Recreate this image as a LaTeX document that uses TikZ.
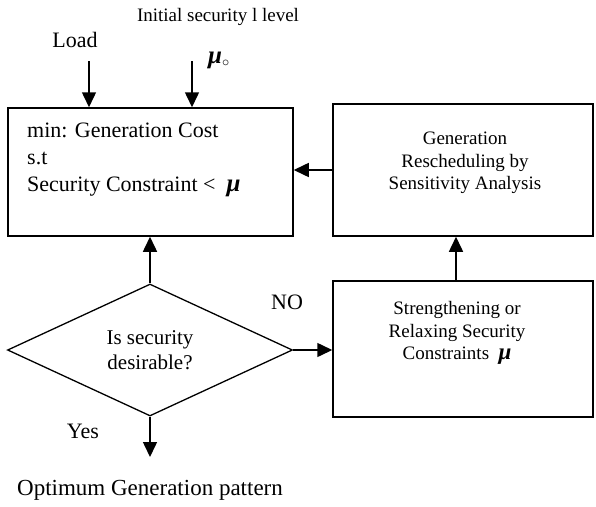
\documentclass[tikz,border=0pt]{standalone}
\usepackage{fontspec}
\setmainfont{Liberation Serif}
\usetikzlibrary{shapes.geometric,arrows.meta}

\begin{document}
\begin{tikzpicture}
        [x=1pt, y=-1pt,
        block/.style={draw, line width=1.5pt, inner sep=0pt},
        decision/.style={diamond, draw, line width=1.3pt, inner sep=0pt, aspect=2.15,
                minimum width=285pt, minimum height=132pt, align=center,
                font=\fontsize{21}{25}\selectfont},
        flow/.style={line width=1.5pt, -{Triangle[length=15pt,width=14pt]}},
        big/.style={inner sep=0pt, font=\fontsize{22}{27}\selectfont},
        small/.style={inner sep=0pt, align=center, font=\fontsize{19}{22.5}\selectfont}]

        \newcommand{\mysym}[1]{{\fontsize{#1}{#1}\selectfont\bfseries\itshape μ}}

        \useasboundingbox (0,0) rectangle (596,506);

        % Blocks
        \node[block, minimum width=285pt, minimum height=128pt] (optim) at (150.5,172) {};
        \node[block, minimum width=260pt, minimum height=132pt] (resched) at (463,170) {};
        \node[block, minimum width=260pt, minimum height=136pt] (relax) at (463,349) {};
        \node[decision] (decide) at (150,350) {Is security\\ desirable?};

        % Texts inside the blocks
        \node[big, anchor=west, align=left] (optimtext) at (27,160)
                {min: Generation Cost\\ s.t\\ Security Constraint <\ \ \mysym{25}};
        \node[small] (reschedtext) at (465,163) {Generation\\ Rescheduling by\\ Sensitivity Analysis};
        \node[small] (relaxtext) at (457,333) {Strengthening or\\ Relaxing Security\\ Constraints\ \ \mysym{23}};

        % Inputs on top
        \node[big] (load) at (75,40) {Load};
        \node[small] (initlevel) at (218,17) {Initial security l level};
        \node[big] (muzero) at (219,60) {\mysym{25}$_{\circ}$};
        \coordinate (loadin) at (89,61);
        \coordinate (muin) at (192,61);

        % Labels of the decision
        \node[big] (no) at (287,302) {NO};
        \node[big] (yes) at (83,431) {Yes};
        \node[big, font=\fontsize{23}{27}\selectfont] (result) at (150,490) {Optimum Generation pattern};
        \coordinate (out) at (150,457);

        % Connectors
        \draw[flow] (loadin) -- (optim.north -| loadin);
        \draw[flow] (muin) -- (optim.north -| muin);
        \draw[flow] (decide.north) -- (optim.south -| decide.north);
        \draw[flow] (decide.east) -- (relax.west |- decide.east);
        \draw[flow] ([xshift=-7pt]relax.north) -- ([xshift=-7pt]resched.south);
        \draw[flow] (resched.west) -- (optim.east |- resched.west);
        \draw[flow] (decide.south) -- (out);

\end{tikzpicture}
\end{document}
